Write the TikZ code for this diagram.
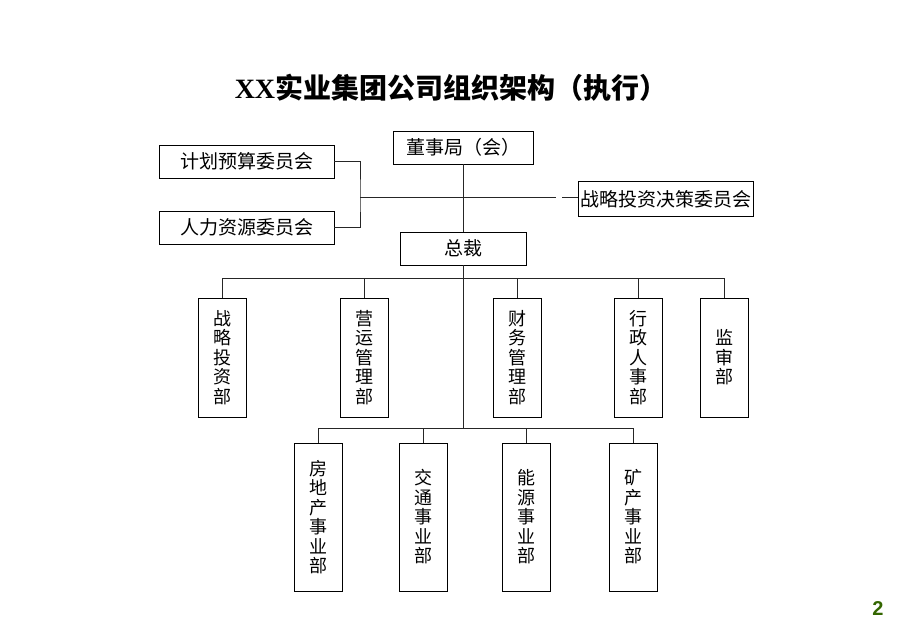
\documentclass[tikz,border=0pt]{standalone}
\usepackage{fontspec}
\setmainfont{Liberation Serif}
\newfontfamily\cjk{Noto Sans CJK SC}
\newfontfamily\numfont{Liberation Sans}
\usetikzlibrary{positioning, calc}
\definecolor{pagegreen}{RGB}{51,102,0}

\begin{document}
\begin{tikzpicture}
	[
	x = 1pt, y = -1pt,
	box/.style = {draw, line width = 0.8pt, inner sep = 0pt, font = \cjk\fontsize{19}{20}\selectfont},
	hbox/.style = {box, minimum width = 175pt, minimum height = 33pt},
	vbox/.style = {box, align = center, minimum width = 48pt, font = \cjk\fontsize{18}{19.5}\selectfont},
	link/.style = {line width = 0.6pt, draw = black!85}
	]
	\useasboundingbox (0,0) rectangle (920,637);
	
	\node[font = \bfseries\fontsize{28}{28}\selectfont] (title) at (451,88) {XX{\cjk\bfseries 实业集团公司组织架构（执行）}};
	
	\node[box, minimum width = 140pt, minimum height = 33pt] (board) at (463,147.5) {董事局（会）};
	\node[hbox] (plan) at (246.5,161.5) {计划预算委员会};
	\node[hbox] (hr) at (246.5,227.5) {人力资源委员会};
	\node[hbox, minimum height = 35pt] (strat) at (666,199) {战略投资决策委员会};
	\node[box, minimum width = 126pt, minimum height = 33pt] (ceo) at (463,248.5) {总裁};
	
	\node[vbox, minimum height = 119pt] (dinv) at (222.5,357.5) {战\\略\\投\\资\\部};
	\node[vbox, minimum height = 119pt] (dops) at (364,357.5) {营\\运\\管\\理\\部};
	\node[vbox, minimum height = 119pt] (dfin) at (517,357.5) {财\\务\\管\\理\\部};
	\node[vbox, minimum height = 119pt] (dadm) at (638,357.5) {行\\政\\人\\事\\部};
	\node[vbox, minimum height = 119pt] (dsup) at (724,357.5) {监\\审\\部};
	
	\node[vbox, minimum height = 148pt] (bprop) at (318,517) {房\\地\\产\\事\\业\\部};
	\node[vbox, minimum height = 148pt] (btrans) at (423.5,517) {交\\通\\事\\业\\部};
	\node[vbox, minimum height = 148pt] (benergy) at (526.5,517) {能\\源\\事\\业\\部};
	\node[vbox, minimum height = 148pt] (bmine) at (633.5,517) {矿\\产\\事\\业\\部};
	
	\node[font = \numfont\bfseries\fontsize{20}{20}\selectfont, text = pagegreen] (page) at (878,609) {2};
	
	\coordinate (brk) at (360,197);
	\coordinate (gapl) at (556,197);
	\coordinate (gapr) at (562,197);
	\coordinate (bus1) at (463,278);
	\coordinate (bus2) at (463,428);
	
	\draw[link] (board) -- (ceo);
	\draw[link] (plan.east) -| (brk) |- (hr.east);
	\draw[link] (brk) -- (gapl);
	\draw[link] (gapr) -- (gapr -| strat.west);
	\draw[link] (ceo) -- (bus2);
	
	\draw[link] (dinv.north |- bus1) -- (dsup.north |- bus1);
	\foreach \d in {dinv, dops, dfin, dadm, dsup}
		\draw[link] (\d.north) -- (\d.north |- bus1);
	
	\draw[link] (bprop.north |- bus2) -- (bmine.north |- bus2);
	\foreach \d in {bprop, btrans, benergy, bmine}
		\draw[link] (\d.north) -- (\d.north |- bus2);
\end{tikzpicture}
\end{document}
